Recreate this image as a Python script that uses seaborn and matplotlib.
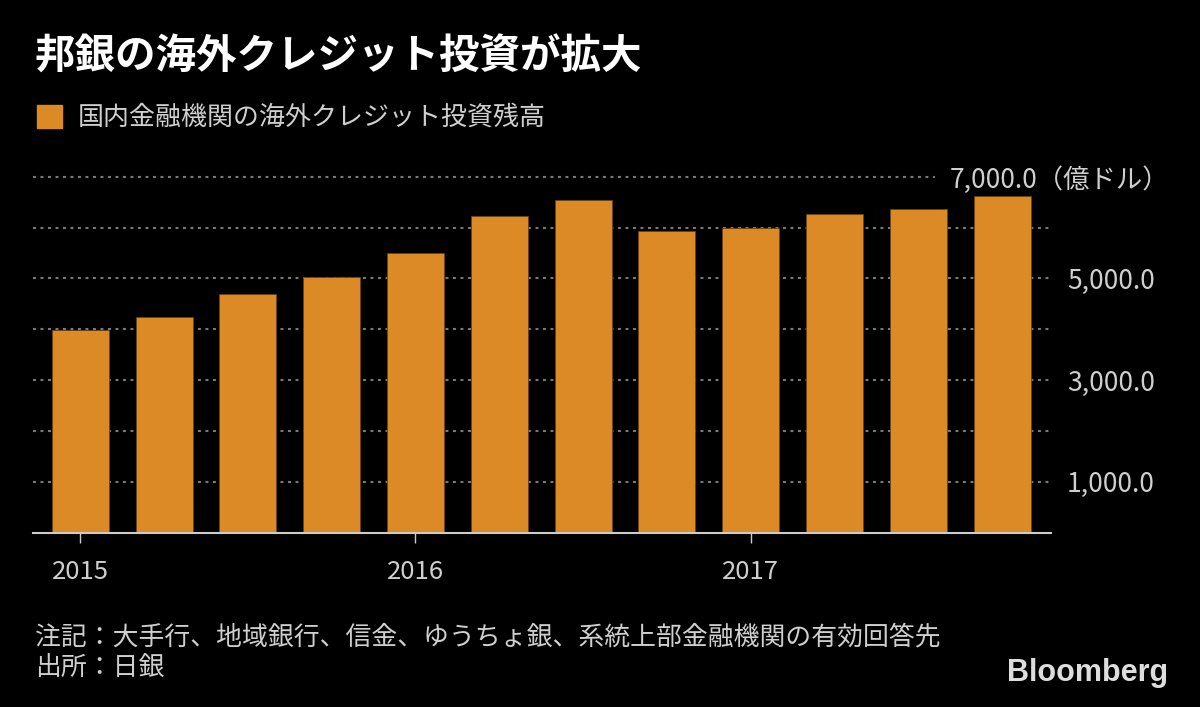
import pandas as pd
import matplotlib
matplotlib.use("Agg")
import matplotlib.pyplot as plt
import matplotlib.transforms as mtransforms
import seaborn as sns

quarters = ['2015Q1', '2015Q2', '2015Q3', '2015Q4',
            '2016Q1', '2016Q2', '2016Q3', '2016Q4',
            '2017Q1', '2017Q2', '2017Q3', '2017Q4']
balance = [3980, 4235, 4700, 5030, 5495, 6220, 6545, 5930, 6000, 6260, 6365, 6615]
year_ticks = ['2015Q1', '2016Q1', '2017Q1']
year_labels = ['2015', '2016', '2017']
grid_levels = [1000, 2000, 3000, 4000, 5000, 6000, 7000]
label_levels = [1000, 3000, 5000, 7000]
label_texts = ['1,000.0', '3,000.0', '5,000.0', '7,000.0（億ドル）']

title = '邦銀の海外クレジット投資が拡大'
legend_text = '国内金融機関の海外クレジット投資残高'
note = '注記：大手行、地域銀行、信金、ゆうちょ銀、系統上部金融機関の有効回答先'
source = '出所：日銀'

bar_color = '#DB8A25'
text_gray = '#cfcfcf'

df = pd.DataFrame({'quarter': quarters, 'balance': balance})

sns.set_style('dark')
plt.rcParams['font.family'] = ['Noto Sans CJK JP', 'DejaVu Sans']

fig = plt.figure(figsize=(12, 7.07), dpi=100, facecolor='black')
ax = fig.add_axes([33.3 / 1200, 1 - 532.7 / 707, (1050.7 - 33.3) / 1200, (532.7 - 176.7) / 707])
ax.set_facecolor('black')

sns.barplot(x='quarter', y='balance', data=df, color=bar_color, saturation=1,
            width=0.68, edgecolor='#6b4212', linewidth=0.6, ax=ax, zorder=2)

ax.set_xlim(-0.56, 11.58)
ax.set_ylim(0, 7000)

# dotted grid, top line stops short of its long label
for lv in grid_levels:
    xmax = 0.886 if lv == 7000 else 1.0
    ax.axhline(lv, xmin=0, xmax=xmax, color='#7a7a7a', lw=1.5,
               linestyle=(0, (1.4, 2.2)), zorder=0, clip_on=False)

for s in ['top', 'left', 'right']:
    ax.spines[s].set_visible(False)
ax.spines['bottom'].set_color('#cccccc')
ax.spines['bottom'].set_linewidth(1.5)

ax.set_xticks([quarters.index(q) for q in year_ticks])
ax.set_xticklabels(year_labels)
ax.tick_params(axis='x', bottom=True, direction='out', colors='#cccccc', length=7,
               width=1, labelsize=18.5, labelcolor=text_gray, pad=12)

ax.yaxis.tick_right()
ax.set_yticks(label_levels)
ax.set_yticklabels(label_texts)
ax.tick_params(axis='y', length=0, labelsize=19, labelcolor=text_gray, pad=75)
for t in ax.get_yticklabels():
    t.set_horizontalalignment('right')
# full-width closing paren leaves blank space; nudge the unit label right
top_lbl = ax.get_yticklabels()[-1]
top_lbl.set_transform(top_lbl.get_transform() +
                      mtransforms.ScaledTranslation(0.15, 0, fig.dpi_scale_trans))

ax.set_xlabel('')
ax.set_ylabel('')
ax.grid(False)

fig.text(35 / 1200, 1 - 57 / 707, title, color='white', fontsize=29.2,
         fontweight='bold', va='center', ha='left')
fig.patches.append(plt.Rectangle((37 / 1200, 1 - 128 / 707), 25 / 1200, 23 / 707,
                                 transform=fig.transFigure, color=bar_color))
fig.text(78 / 1200, 1 - 117 / 707, legend_text, color=text_gray, fontsize=18.7,
         va='center', ha='left')
fig.text(35 / 1200, 1 - 637 / 707, note, color=text_gray, fontsize=18.6,
         va='center', ha='left')
fig.text(35 / 1200, 1 - 667 / 707, source, color=text_gray, fontsize=18.6,
         va='center', ha='left')
fig.text(1168 / 1200, 1 - 673 / 707, 'Bloomberg', color='#dddddd', fontsize=22,
         fontweight='bold', family='Liberation Sans', va='center', ha='right')

fig.savefig('out.png', dpi=100, facecolor='black')
